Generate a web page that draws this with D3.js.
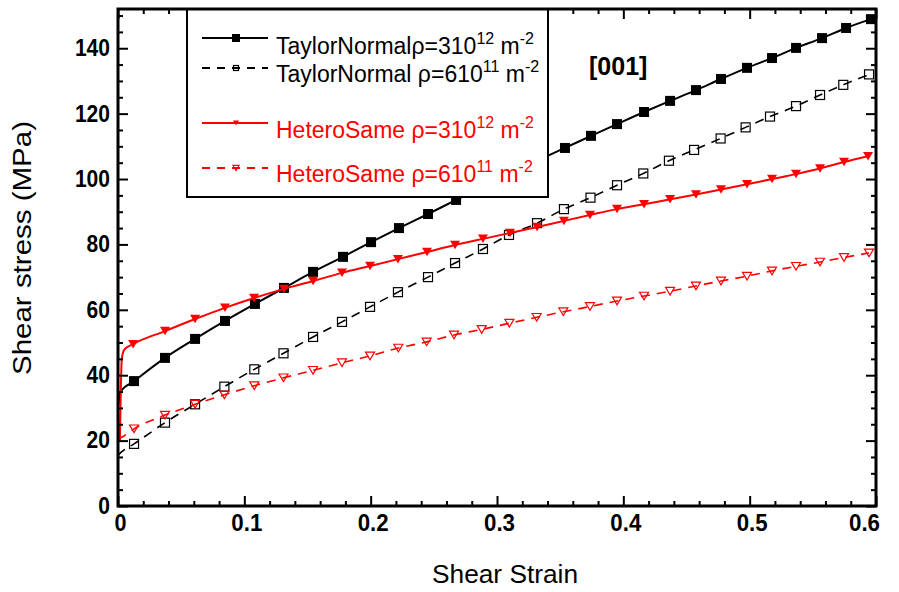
<!DOCTYPE html>
<html><head><meta charset="utf-8">
<script src="https://cdn.jsdelivr.net/npm/d3@7"></script>
<style>body{margin:0;background:#fff}svg{display:block;font-family:"Liberation Sans",Arial,Helvetica,sans-serif}</style>
</head><body><svg id="c" width="899" height="592"></svg>
<script>
// ---- data ----
const xTicks = [0, 0.1, 0.2, 0.3, 0.4, 0.5, 0.6];
const xTickLabels = ["0", "0.1", "0.2", "0.3", "0.4", "0.5", "0.6"];
const yTicks = [0, 20, 40, 60, 80, 100, 120, 140];
const yTickLabels = ["0", "20", "40", "60", "80", "100", "120", "140"];
const seriesNames = ["TaylorNormal", "TaylorNormal", "HeteroSame", "HeteroSame"];
const seriesRho = ["3", "6", "3", "6"];
const seriesExp = ["12", "11", "12", "11"];

// TaylorNormal rho=3e12 (solid, filled squares)
const tn3Strain = [0.000, 0.002, 0.0127, 0.0372, 0.0610, 0.0847, 0.1084, 0.1314, 0.1544, 0.1781, 0.2003, 0.2224, 0.2454, 0.2676, 0.2895, 0.3110, 0.3325, 0.3538, 0.3744, 0.3950, 0.4164, 0.4370, 0.4575, 0.4773, 0.4979, 0.5177, 0.5367, 0.5573, 0.5763, 0.5960];
const tn3Stress = [30, 35, 38.2, 45.3, 51.1, 56.6, 61.8, 66.7, 71.6, 76.2, 80.7, 85.0, 89.3, 93.6, 97.7, 101.8, 105.8, 109.5, 113.2, 116.8, 120.5, 123.9, 127.2, 130.6, 134.0, 137.0, 140.1, 143.1, 146.2, 148.9];
// TaylorNormal rho=6e11 (dashed, open squares)
const tn6Strain = [0.000, 0.003, 0.0127, 0.0372, 0.0610, 0.0842, 0.1079, 0.1310, 0.1544, 0.1773, 0.1995, 0.2216, 0.2454, 0.2668, 0.2889, 0.3095, 0.3317, 0.3530, 0.3740, 0.3950, 0.4158, 0.4361, 0.4560, 0.4770, 0.4968, 0.5161, 0.5367, 0.5557, 0.5741, 0.5945];
const tn6Stress = [15.5, 16.6, 19.0, 25.5, 31.1, 36.5, 41.8, 46.7, 51.7, 56.3, 60.9, 65.4, 70.0, 74.3, 78.6, 82.9, 86.5, 90.8, 94.3, 98.1, 101.7, 105.6, 108.9, 112.4, 115.8, 119.1, 122.3, 125.7, 128.8, 132.0];
// HeteroSame rho=3e12 (solid red, filled triangles)
const hs3Strain = [0.0015, 0.0022, 0.0030, 0.0050, 0.0120, 0.0372, 0.0610, 0.0847, 0.1077, 0.1314, 0.1544, 0.1773, 0.1995, 0.2216, 0.2446, 0.2668, 0.2889, 0.3103, 0.3317, 0.3530, 0.3736, 0.3950, 0.4164, 0.4370, 0.4575, 0.4773, 0.4979, 0.5177, 0.5367, 0.5557, 0.5747, 0.5937];
const hs3Stress = [20, 35, 45, 47.8, 49.5, 53.5, 57.2, 60.6, 63.6, 66.4, 68.8, 71.3, 73.4, 75.5, 77.7, 79.8, 81.7, 83.5, 85.3, 87.2, 89.0, 90.8, 92.3, 93.8, 95.3, 96.8, 98.4, 100.0, 101.5, 103.2, 105.2, 107.0];
// HeteroSame rho=6e11 (dashed red, open triangles)
const hs6Strain = [0.000, 0.0037, 0.0127, 0.0372, 0.0610, 0.0842, 0.1079, 0.1310, 0.1544, 0.1773, 0.1995, 0.2219, 0.2443, 0.2660, 0.2879, 0.3098, 0.3314, 0.3525, 0.3736, 0.3950, 0.4164, 0.4370, 0.4575, 0.4773, 0.4979, 0.5177, 0.5367, 0.5557, 0.5747, 0.5945];
const hs6Stress = [20.5, 21.2, 23.6, 27.8, 31.1, 34.0, 36.8, 39.2, 41.5, 43.8, 45.9, 48.3, 50.2, 52.3, 54.0, 55.9, 57.7, 59.4, 61.0, 62.7, 64.2, 65.7, 67.3, 68.8, 70.3, 71.9, 73.3, 74.6, 76.0, 77.4];
// first index that carries a marker (earlier points are the elastic start)
const markerFrom = [2, 2, 4, 2];

// ---- chart ----
const svg = d3.select("#c");
const L = 118, R = 876, T = 9, B = 506;
const x = d3.scaleLinear().domain([0, 0.6]).range([L, R]);
const y = d3.scaleLinear().domain([0, 152]).range([B, T]);

const series = [
  {sx: tn3Strain, sy: tn3Stress, color: "#000", dash: null, marker: "sqFill", m: markerFrom[0]},
  {sx: tn6Strain, sy: tn6Stress, color: "#000", dash: "9,7", marker: "sqOpen", m: markerFrom[1]},
  {sx: hs3Strain, sy: hs3Stress, color: "#ff0000", dash: null, marker: "triFill", m: markerFrom[2]},
  {sx: hs6Strain, sy: hs6Stress, color: "#ff0000", dash: "9,7", marker: "triOpen", m: markerFrom[3]}
];

const line = d3.line().x(d => x(d[0])).y(d => y(d[1])).curve(d3.curveMonotoneX);
const plot = svg.append("g");

function drawMarker(g, type, cx, cy, color, s) {
  if (type === "sqFill") {
    g.append("rect").attr("x", cx - s/2).attr("y", cy - s/2).attr("width", s).attr("height", s).attr("fill", color);
  } else if (type === "sqOpen") {
    g.append("rect").attr("x", cx - s/2).attr("y", cy - s/2).attr("width", s).attr("height", s)
      .attr("fill", "none").attr("stroke", color).attr("stroke-width", 1.2);
  } else {
    const h = s * 0.85;
    const p = `M${cx - s/2},${cy - h/2}L${cx + s/2},${cy - h/2}L${cx},${cy + h/2}Z`;
    const e = g.append("path").attr("d", p);
    if (type === "triFill") e.attr("fill", color);
    else e.attr("fill", "none").attr("stroke", color).attr("stroke-width", 1.2);
  }
}

const sizes = {sqFill: 10, sqOpen: 9, triFill: 10, triOpen: 9};
series.forEach(s => {
  const pts = s.sx.map((v, i) => [v, s.sy[i]]);
  plot.append("path").attr("d", line(pts)).attr("fill", "none").attr("stroke", s.color)
    .attr("stroke-width", s.dash ? 1.6 : 2).attr("stroke-dasharray", s.dash);
  pts.slice(s.m).forEach(p => drawMarker(plot, s.marker, x(p[0]), y(p[1]), s.color, sizes[s.marker]));
});

// ---- ticks (inward, all four sides) ----
const xMinor = d3.range(0, 0.6001, 0.02).filter(v => Math.abs(v * 10 - Math.round(v * 10)) > 1e-6);
const yMinor = d3.range(0, 152, 5).filter(v => v % 20 !== 0);
function tickStyle(g) { g.select(".domain").remove(); g.selectAll("line").attr("stroke", "#000").attr("stroke-width", 2); }

svg.append("g").attr("transform", `translate(0,${B})`).call(d3.axisBottom(x).tickValues(xMinor).tickSize(-5).tickFormat("")).call(tickStyle);
svg.append("g").attr("transform", `translate(0,${T})`).call(d3.axisTop(x).tickValues(xMinor).tickSize(-5).tickFormat("")).call(tickStyle);
svg.append("g").attr("transform", `translate(0,${T})`).call(d3.axisTop(x).tickValues(xTicks).tickSize(-10).tickFormat("")).call(tickStyle);
svg.append("g").attr("transform", `translate(${L},0)`).call(d3.axisLeft(y).tickValues(yMinor).tickSize(-5).tickFormat("")).call(tickStyle);
svg.append("g").attr("transform", `translate(${R},0)`).call(d3.axisRight(y).tickValues(yMinor).tickSize(-5).tickFormat("")).call(tickStyle);
svg.append("g").attr("transform", `translate(${R},0)`).call(d3.axisRight(y).tickValues(yTicks).tickSize(-10).tickFormat("")).call(tickStyle);

const xa = svg.append("g").attr("transform", `translate(0,${B})`)
  .call(d3.axisBottom(x).tickValues(xTicks).tickSize(-10).tickPadding(9).tickFormat((d, i) => xTickLabels[i])).call(tickStyle);
xa.selectAll("text").attr("font-size", 23).attr("font-weight", "bold").attr("fill", "#000")
  .attr("font-family", "Liberation Sans, Arial, sans-serif")
  .attr("textLength", (d, i) => xTickLabels[i].length === 1 ? 12 : 31).attr("lengthAdjust", "spacingAndGlyphs")
  .attr("dx", (d, i) => i === xTicks.length - 1 ? -12 : 2);
const ya = svg.append("g").attr("transform", `translate(${L},0)`)
  .call(d3.axisLeft(y).tickValues(yTicks).tickSize(-10).tickPadding(8).tickFormat((d, i) => yTickLabels[i])).call(tickStyle);
ya.selectAll("text").attr("font-size", 23).attr("font-weight", "bold").attr("fill", "#000")
  .attr("font-family", "Liberation Sans, Arial, sans-serif")
  .attr("textLength", (d, i) => yTickLabels[i].length * 11.7).attr("lengthAdjust", "spacingAndGlyphs");

// ---- legend ----
const lg = svg.append("g");
lg.append("rect").attr("x", 187).attr("y", T).attr("width", 361).attr("height", 188)
  .attr("fill", "#fff").attr("stroke", "#000").attr("stroke-width", 2);
const lineY = [38, 68, 123, 168];
const textY = [54, 82, 138, 182];
const legMarker = {sqFill: 8, sqOpen: 5, triFill: 6, triOpen: 6};
series.forEach((s, i) => {
  lg.append("line").attr("x1", 202).attr("x2", 268).attr("y1", lineY[i]).attr("y2", lineY[i])
    .attr("stroke", s.color).attr("stroke-width", 2).attr("stroke-dasharray", s.dash ? "8,7" : null);
  drawMarker(lg, s.marker, 236, lineY[i], s.color, legMarker[s.marker]);
  const t = lg.append("text").attr("x", 276).attr("y", textY[i]).attr("font-size", 23).attr("fill", s.color);
  t.append("tspan").text(seriesNames[i] + (i === 0 ? "" : " ") + "ρ=" + seriesRho[i] + "10");
  t.append("tspan").attr("dy", -10).attr("font-size", 16).text(seriesExp[i]);
  t.append("tspan").attr("dy", 10).text(" m");
  t.append("tspan").attr("dy", -10).attr("font-size", 16).text("-2");
});

// frame
svg.append("rect").attr("x", L).attr("y", T).attr("width", R - L).attr("height", B - T)
  .attr("fill", "none").attr("stroke", "#000").attr("stroke-width", 3);

// annotation
svg.append("text").attr("x", 589).attr("y", 75).attr("font-size", 25).attr("font-weight", "bold").text("[001]");

// axis titles
svg.append("text").attr("x", 505).attr("y", 583).attr("text-anchor", "middle").attr("font-size", 25)
  .attr("textLength", 146).attr("lengthAdjust", "spacingAndGlyphs").text("Shear Strain");
svg.append("text").attr("transform", "translate(31,248) rotate(-90)").attr("text-anchor", "middle").attr("font-size", 25)
  .attr("textLength", 254).attr("lengthAdjust", "spacingAndGlyphs").text("Shear stress (MPa)");
</script></body></html>
